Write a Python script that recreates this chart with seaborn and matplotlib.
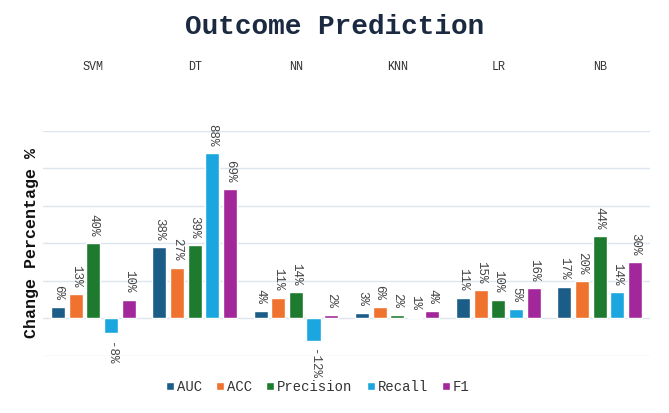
import pandas as pd
import matplotlib
matplotlib.use("Agg")
import matplotlib.pyplot as plt
import seaborn as sns

# Chart data
models = ["SVM", "DT", "NN", "KNN", "LR", "NB"]
metrics = ["AUC", "ACC", "Precision", "Recall", "F1"]
auc = [6, 38, 4, 3, 11, 17]
acc = [13, 27, 11, 6, 15, 20]
precision = [40, 39, 14, 2, 10, 44]
recall = [-8, 88, -12, 0.6, 5, 14]
f1 = [10, 69, 2, 4, 16, 30]

colors = ["#1c5d88", "#f0722f", "#1d7a2f", "#1ba6df", "#a2279b"]

rows = []
for metric, vals in zip(metrics, [auc, acc, precision, recall, f1]):
    for model, v in zip(models, vals):
        rows.append({"Model": model, "Metric": metric, "Value": v})
df = pd.DataFrame(rows)

sns.set_style("white")
plt.rcParams["font.family"] = ["Liberation Mono", "DejaVu Sans Mono"]

fig = plt.figure(figsize=(6.69, 4.13), dpi=100)
ax = fig.add_axes([0.064, 0.138, 0.908, 0.545])

sns.barplot(data=df, x="Model", y="Value", hue="Metric", order=models,
            hue_order=metrics, palette=colors, width=0.87, gap=0.2,
            saturation=1, ax=ax, legend=True)

ax.set_ylim(-20, 100)
ax.set_xlim(-0.5, 5.5)
ax.set_yticks(range(-20, 101, 20))
ax.set_yticklabels([])
ax.tick_params(axis="y", length=0, pad=0)
ax.yaxis.grid(True, color="#dde5ee", linewidth=1)
ax.set_axisbelow(True)
for s in ax.spines.values():
    s.set_visible(False)

ax.xaxis.tick_top()
ax.tick_params(axis="x", length=0, pad=42, labelsize=8.5, labelcolor="#333333")
ax.set_xlabel("")
ax.set_ylabel("Change Percentage %", fontsize=12, fontweight="bold",
              color="#111111", labelpad=3)

# value labels
for cont, vals in zip(ax.containers, [auc, acc, precision, recall, f1]):
    for bar, v in zip(cont, vals):
        x = bar.get_x() + bar.get_width() / 2
        if v >= 0:
            ax.annotate(f"{v:.0f}%", (x, v), xytext=(0, 5),
                        textcoords="offset points", rotation=270,
                        ha="center", va="bottom", fontsize=9, color="#444444")
        else:
            ax.annotate(f"{v:.0f}%", (x, v), xytext=(0, -6),
                        textcoords="offset points", rotation=270,
                        ha="center", va="top", fontsize=9, color="#444444")

fig.suptitle("Outcome Prediction", x=0.5, y=0.965, fontsize=20,
             fontweight="bold", color="#1b2a41")

ax.legend_.remove()
handles, labels = ax.get_legend_handles_labels()
fig.legend(handles, labels, loc="center", bbox_to_anchor=(0.475, 0.063),
           ncol=5, frameon=False, fontsize=10, handlelength=0.6,
           handleheight=0.6, handletextpad=0.2, columnspacing=1.0,
           labelcolor="#333333")

fig.savefig("out.png", dpi=100)
